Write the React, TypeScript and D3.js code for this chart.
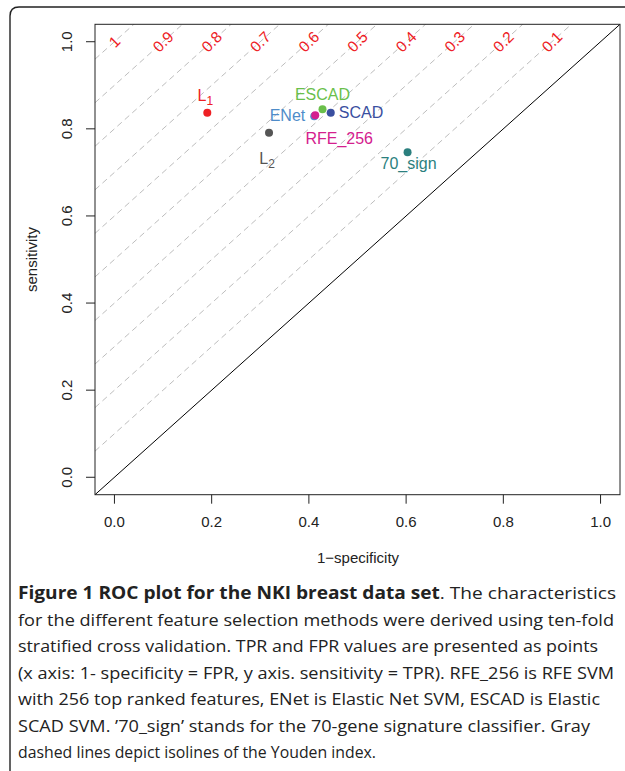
import React from 'react';
import * as d3 from 'd3';

// points: x = 1 - specificity (FPR), y = sensitivity (TPR)
const methods = ['L1', 'L2', 'ENet', 'RFE_256', 'ESCAD', 'SCAD', '70_sign'];
const labelMain = ['L', 'L', 'ENet', 'RFE_256', 'ESCAD', 'SCAD', '70_sign'];
const labelSub = ['1', '2', '', '', '', '', ''];
const fpr = [0.191, 0.318, 0.411, 0.413, 0.428, 0.445, 0.603];
const tpr = [0.837, 0.791, 0.829, 0.831, 0.845, 0.837, 0.746];
const pointColors = ['#ee2024', '#555555', '#4f8cc9', '#d4208e', '#6abf4b', '#3a4fa0', '#2b7f7e'];

// Youden index isolines
const youden = [1, 0.9, 0.8, 0.7, 0.6, 0.5, 0.4, 0.3, 0.2, 0.1];
const youdenLabels = ['1', '0.9', '0.8', '0.7', '0.6', '0.5', '0.4', '0.3', '0.2', '0.1'];

const xTicks = [0, 0.2, 0.4, 0.6, 0.8, 1];
const yTicks = [0, 0.2, 0.4, 0.6, 0.8, 1];

const captionBold = 'Figure 1 ROC plot for the NKI breast data set';
const captionLines = [
  '. The characteristics',
  'for the different feature selection methods were derived using ten-fold',
  'stratified cross validation. TPR and FPR values are presented as points',
  '(x axis: 1- specificity = FPR, y axis. sensitivity = TPR). RFE_256 is RFE SVM',
  'with 256 top ranked features, ENet is Elastic Net SVM, ESCAD is Elastic',
  'SCAD SVM. \u201970_sign\u2019 stands for the 70-gene signature classifier. Gray',
  'dashed lines depict isolines of the Youden index.',
];
const captionRight = [616, 614, 598, 614, 600, 590, 376];

// label placement relative to each point (px)
const labelPos = [
  { anchor: 'middle', dx: -2, dy: -12 },
  { anchor: 'middle', dx: -2, dy: 31 },
  { anchor: 'end', dx: -9, dy: 5 },
  { anchor: 'middle', dx: 24, dy: 29 },
  { anchor: 'middle', dx: 0, dy: -9 },
  { anchor: 'start', dx: 8, dy: 5 },
  { anchor: 'middle', dx: 1, dy: 17 },
];

const W = 625;
const H = 771;
const left = 95;
const right = 620;
const top = 24.3;
const bottom = 494.7;

export default function App() {
  const x = d3.scaleLinear().domain([-0.04, 1.04]).range([left, right]);
  const y = d3.scaleLinear().domain([-0.04, 1.04]).range([bottom, top]);
  const line = d3.line<[number, number]>().x((d) => x(d[0])).y((d) => y(d[1]));
  const plotFont = '"Liberation Sans", Arial, Helvetica, sans-serif';

  return (
    <svg width={W} height={H} style={{ position: 'absolute', left: 0, top: 0, background: '#fff' }}>
      <defs>
        <clipPath id="plotClip">
          <rect x={left} y={top} width={right - left} height={bottom - top} />
        </clipPath>
      </defs>

      {/* outer frame */}
      <path d="M 640 7 L 19 7 Q 10 7 10 16 L 10 771" fill="none" stroke="#222" strokeWidth={1.4} />

      {/* isolines */}
      <g clipPath="url(#plotClip)">
        {youden.map((j) => (
          <path
            key={j}
            d={line([[-0.04, -0.04 + j], [1.04, 1.04 + j]]) || ''}
            fill="none"
            stroke="#bdbdbd"
            strokeWidth={1}
            strokeDasharray="6,4"
          />
        ))}
        <path d={line([[-0.04, -0.04], [1.04, 1.04]]) || ''} fill="none" stroke="#000" strokeWidth={1} />
      </g>

      {youden.map((j, i) => (
        <text
          key={'yl' + j}
          transform={`translate(${x(1 - j)},${y(1)}) rotate(-45)`}
          textAnchor="middle"
          dy="0.35em"
          fill="#ee1c25"
          fontFamily={plotFont}
          fontSize={15.5}
        >
          {youdenLabels[i]}
        </text>
      ))}

      {/* box */}
      <rect x={left} y={top} width={right - left} height={bottom - top} fill="none" stroke="#222" strokeWidth={1} />

      {/* x axis */}
      {xTicks.map((t) => (
        <g key={'xt' + t}>
          <line x1={x(t)} x2={x(t)} y1={bottom} y2={bottom + 9} stroke="#222" />
          <text x={x(t)} y={527} textAnchor="middle" fontFamily={plotFont} fontSize={15} fill="#222">
            {d3.format('.1f')(t)}
          </text>
        </g>
      ))}
      <text x={(left + right) / 2 + 0.5} y={563} textAnchor="middle" fontFamily={plotFont} fontSize={15} fill="#222">
        1−specificity
      </text>

      {/* y axis */}
      {yTicks.map((t) => (
        <g key={'yt' + t}>
          <line x1={left - 9} x2={left} y1={y(t)} y2={y(t)} stroke="#222" />
          <text
            transform={`translate(72,${y(t)}) rotate(-90)`}
            textAnchor="middle"
            fontFamily={plotFont}
            fontSize={15}
            fill="#222"
          >
            {d3.format('.1f')(t)}
          </text>
        </g>
      ))}
      <text
        transform={`translate(37,${y(0.5)}) rotate(-90)`}
        textAnchor="middle"
        fontFamily={plotFont}
        fontSize={15}
        fill="#222"
      >
        sensitivity
      </text>

      {/* points */}
      {methods.map((m, i) => (
        <circle key={m} cx={x(fpr[i])} cy={y(tpr[i])} r={4} fill={pointColors[i]} />
      ))}
      {methods.map((m, i) => (
        <text
          key={'lab' + m}
          x={x(fpr[i]) + labelPos[i].dx}
          y={y(tpr[i]) + labelPos[i].dy}
          textAnchor={labelPos[i].anchor as any}
          fill={pointColors[i]}
          fontFamily={plotFont}
          fontSize={16}
        >
          {labelMain[i]}
          {labelSub[i] && (
            <tspan dy={4} fontSize={12}>
              {labelSub[i]}
            </tspan>
          )}
        </text>
      ))}

      {/* caption */}
      {captionLines.map((ln, i) => (
        <text
          key={'cap' + i}
          x={18}
          y={599 + i * 26.5}
          fontFamily='"Open Sans", "Noto Sans", sans-serif'
          fontSize={17}
          fill="#222"
          textLength={captionRight[i] - 18}
          lengthAdjust="spacingAndGlyphs"
        >
          {i === 0 && <tspan fontWeight="bold">{captionBold}</tspan>}
          {ln}
        </text>
      ))}
    </svg>
  );
}
